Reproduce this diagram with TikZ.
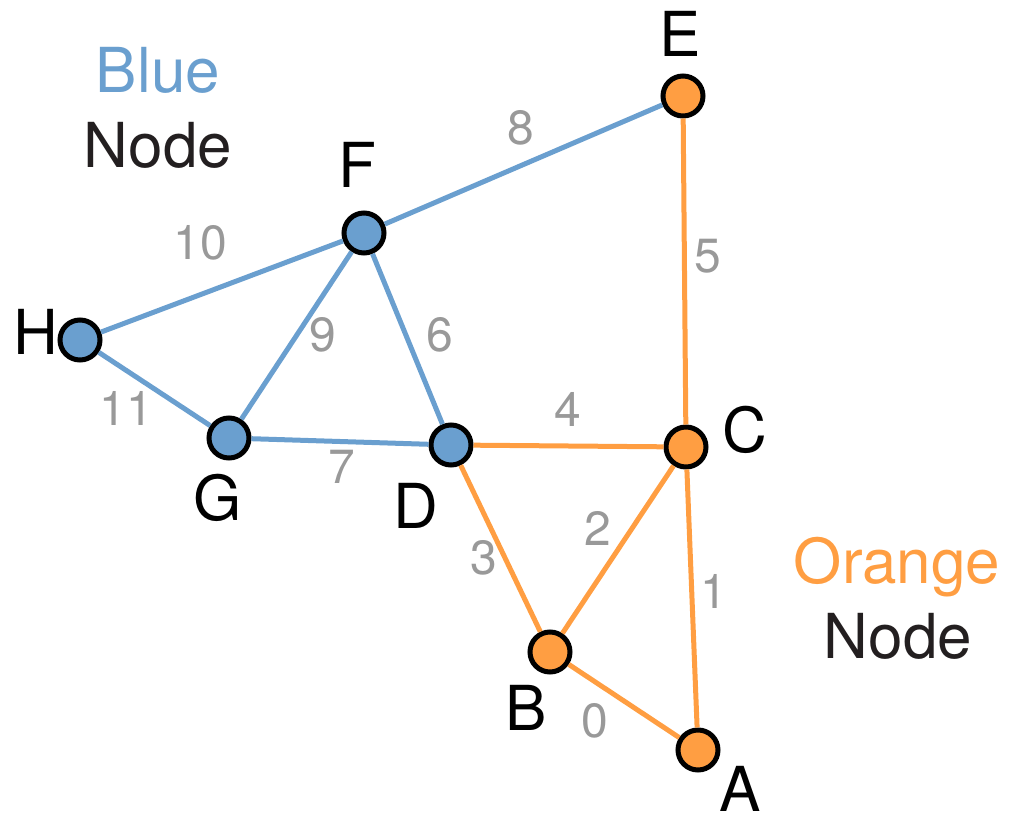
\documentclass[tikz,border=0pt]{standalone}
\usepackage{fontspec}
\setmainfont{TeX Gyre Heros}
\usepackage{tikz}
\usetikzlibrary{positioning}
\definecolor{bl}{HTML}{6A9FCF}
\definecolor{og}{HTML}{FF9E42}
\definecolor{lg}{HTML}{999999}
\definecolor{ink}{HTML}{231F20}

\begin{document}
\begin{tikzpicture}[x=1pt,y=-1pt,
		vtx/.style={circle,draw=black,line width=5pt,minimum size=40pt,inner sep=0pt},
		edge/.style={line width=5pt},
		vlab/.style={anchor=base,inner sep=0pt,font=\fontsize{62}{74}\selectfont},
		wt/.style={anchor=base,inner sep=0pt,text=lg,font=\fontsize{48}{56}\selectfont},
		legend/.style={anchor=base,inner sep=0pt,font=\fontsize{62}{74}\selectfont}]
			
			\useasboundingbox (0,0) rectangle (1010,818);
			
			\foreach \v/\x/\y/\c in {E/683/96/og,F/364/233/bl,H/80/340/bl,G/229/438/bl,
				D/451/445/bl,C/686/447/og,B/550/652/og,A/698/750/og}
			{
				\node[vtx,fill=\c] (\v) at (\x,\y) {};
			}
			
			\foreach \a/\b/\c in {E/F/bl,F/H/bl,F/G/bl,F/D/bl,H/G/bl,G/D/bl,
				D/C/og,E/C/og,C/B/og,D/B/og,C/A/og,B/A/og}
			{
				\draw[edge,\c] (\a) -- (\b);
			}
			
			\foreach \v/\x/\y in {E/680/57,F/357/188,H/36/355,G/218/520,
				D/416/528,C/745/452,B/526/730,A/740/811}
			{
				\node[vlab] (n\v) at (\x,\y) {\v};
			}
			
			\foreach \t/\x/\y in {0/595/737,1/714/608,2/598/545,3/484/574,4/568/427,5/708/273,
				6/440/352,7/342/483,8/521/145,9/323/352,10/200/260,11/126/425}
			{
				\node[wt] (w\t) at (\x,\y) {\t};
			}
			
			\node[legend,text=bl] (blue) at (158,93) {Blue};
			\node[legend,text=ink] (bnode) at (158,168) {Node};
			\node[legend,text=og] (orange) at (897,583) {Orange};
			\node[legend,text=ink] (onode) at (898,658) {Node};
			
		\end{tikzpicture}
\end{document}
